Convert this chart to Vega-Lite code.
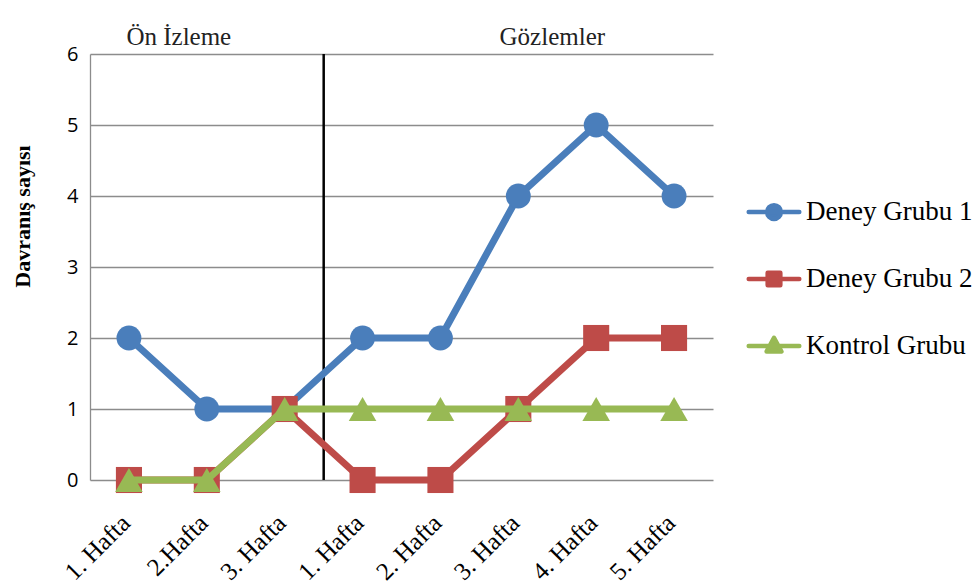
{
  "$schema": "https://vega.github.io/schema/vega-lite/v6.json",
  "width": 623,
  "height": 426,
  "autosize": {"type": "none"},
  "padding": {"left": 90, "top": 54, "right": 260, "bottom": 107},
  "background": "white",
  "config": {
    "view": {"stroke": null},
    "axis": {"labelColor": "black", "titleColor": "black"}
  },
  "data": {
    "values": [
      {"week": 1, "series": "Deney Grubu 1", "value": 2},
      {"week": 2, "series": "Deney Grubu 1", "value": 1},
      {"week": 3, "series": "Deney Grubu 1", "value": 1},
      {"week": 4, "series": "Deney Grubu 1", "value": 2},
      {"week": 5, "series": "Deney Grubu 1", "value": 2},
      {"week": 6, "series": "Deney Grubu 1", "value": 4},
      {"week": 7, "series": "Deney Grubu 1", "value": 5},
      {"week": 8, "series": "Deney Grubu 1", "value": 4},
      {"week": 1, "series": "Deney Grubu 2", "value": 0},
      {"week": 2, "series": "Deney Grubu 2", "value": 0},
      {"week": 3, "series": "Deney Grubu 2", "value": 1},
      {"week": 4, "series": "Deney Grubu 2", "value": 0},
      {"week": 5, "series": "Deney Grubu 2", "value": 0},
      {"week": 6, "series": "Deney Grubu 2", "value": 1},
      {"week": 7, "series": "Deney Grubu 2", "value": 2},
      {"week": 8, "series": "Deney Grubu 2", "value": 2},
      {"week": 1, "series": "Kontrol Grubu", "value": 0},
      {"week": 2, "series": "Kontrol Grubu", "value": 0},
      {"week": 3, "series": "Kontrol Grubu", "value": 1},
      {"week": 4, "series": "Kontrol Grubu", "value": 1},
      {"week": 5, "series": "Kontrol Grubu", "value": 1},
      {"week": 6, "series": "Kontrol Grubu", "value": 1},
      {"week": 7, "series": "Kontrol Grubu", "value": 1},
      {"week": 8, "series": "Kontrol Grubu", "value": 1}
    ]
  },
  "encoding": {
    "x": {
      "field": "week",
      "type": "ordinal",
      "scale": {"type": "point", "padding": 0.5},
      "axis": {
        "title": null,
        "domain": false,
        "ticks": false,
        "grid": false,
        "labelAngle": -45,
        "labelFont": "Liberation Serif",
        "labelFontSize": 25,
        "labelPadding": 30,
        "labelOffset": -12,
        "labelExpr": "['1. Hafta','2.Hafta','3. Hafta','1. Hafta','2. Hafta','3. Hafta','4. Hafta','5. Hafta'][datum.value - 1]"
      }
    },
    "y": {
      "field": "value",
      "type": "quantitative",
      "scale": {"domain": [0, 6], "nice": false},
      "axis": {
        "values": [0, 1, 2, 3, 4, 5, 6],
        "grid": true,
        "gridColor": "#8c8c8c",
        "gridWidth": 1.3,
        "domain": true,
        "domainColor": "#8c8c8c",
        "domainWidth": 1.3,
        "ticks": false,
        "labelPadding": 12,
        "labelFont": "Open Sans",
        "labelFontSize": 20,
        "title": "Davranış sayısı",
        "titleFont": "Liberation Serif",
        "titleFontSize": 22,
        "titleFontWeight": "bold",
        "titleAngle": -90,
        "titleAlign": "center",
        "titleBaseline": "middle",
        "titleX": -68,
        "titleY": 162
      }
    },
    "color": {
      "field": "series",
      "type": "nominal",
      "scale": {"domain": ["Deney Grubu 1", "Deney Grubu 2", "Kontrol Grubu"], "range": ["#4a7ebb", "#be4b48", "#98b954"]},
      "legend": {
        "orient": "none",
        "legendX": 654,
        "legendY": 128,
        "title": null,
        "symbolSize": 3025,
        "symbolStrokeWidth": 4.5,
        "labelFont": "Liberation Serif",
        "labelFontSize": 27,
        "labelColor": "black",
        "labelLimit": 400,
        "labelOffset": 2,
        "rowPadding": 24,
        "encoding": {
          "symbols": {
            "shape": {"value": {"expr": "datum.value === 'Deney Grubu 1' ? 'M-0.92,0H0.92M-0.25,0A0.25,0.25 0 1,0 0.25,0A0.25,0.25 0 1,0 -0.25,0Z' : datum.value === 'Deney Grubu 2' ? 'M-0.92,0H0.92M-0.23,-0.23H0.23V0.23H-0.23Z' : 'M-0.92,0H0.92M0,-0.3L0.27,0.2H-0.27Z'"}},
            "fill": {"value": {"expr": "scale('color', datum.value)"}},
            "stroke": {"value": {"expr": "scale('color', datum.value)"}},
            "strokeWidth": {"value": 4.5},
            "strokeCap": {"value": "round"},
            "strokeJoin": {"value": "round"},
            "size": {"value": 3025},
            "opacity": {"value": 1},
            "fillOpacity": {"value": 1},
            "strokeOpacity": {"value": 1}
          }
        }
      }
    }
  },
  "layer": [
    {
      "transform": [{"filter": "datum.week === 1 && datum.series === 'Deney Grubu 1'"}],
      "mark": {"type": "rule", "color": "black", "strokeWidth": 2.5, "xOffset": 39},
      "encoding": {
        "x": {"datum": 3, "type": "ordinal"},
        "y": {"datum": 0, "type": "quantitative"},
        "y2": {"datum": 6},
        "color": {"value": "black"}
      }
    },
    {
      "transform": [{"filter": "datum.week === 1 && datum.series === 'Deney Grubu 1'"}],
      "mark": {"type": "text", "text": "Ön İzleme", "font": "Liberation Serif", "fontSize": 25, "fontWeight": "normal", "baseline": "alphabetic", "align": "center", "dx": -28, "dy": -9},
      "encoding": {
        "x": {"datum": 2, "type": "ordinal"},
        "y": {"datum": 6, "type": "quantitative"},
        "color": {"value": "#222222"}
      }
    },
    {
      "transform": [{"filter": "datum.week === 1 && datum.series === 'Deney Grubu 1'"}],
      "mark": {"type": "text", "text": "Gözlemler", "font": "Liberation Serif", "fontSize": 25, "fontWeight": "normal", "baseline": "alphabetic", "align": "center", "dx": 34, "dy": -9},
      "encoding": {
        "x": {"datum": 6, "type": "ordinal"},
        "y": {"datum": 6, "type": "quantitative"},
        "color": {"value": "#222222"}
      }
    },
    {
      "transform": [{"filter": "datum.series === 'Deney Grubu 1'"}],
      "mark": {"type": "line", "strokeWidth": 7, "strokeJoin": "round"}
    },
    {
      "transform": [{"filter": "datum.series === 'Deney Grubu 1'"}],
      "mark": {"type": "point", "shape": "circle", "filled": true, "opacity": 1, "size": 620}
    },
    {
      "transform": [{"filter": "datum.series === 'Deney Grubu 2'"}],
      "mark": {"type": "line", "strokeWidth": 7, "strokeJoin": "round"}
    },
    {
      "transform": [{"filter": "datum.series === 'Deney Grubu 2'"}],
      "mark": {"type": "point", "shape": "square", "filled": true, "opacity": 1, "size": 680}
    },
    {
      "transform": [{"filter": "datum.series === 'Kontrol Grubu'"}],
      "mark": {"type": "line", "strokeWidth": 7, "strokeJoin": "round"}
    },
    {
      "transform": [{"filter": "datum.series === 'Kontrol Grubu'"}],
      "mark": {"type": "point", "shape": "triangle-up", "filled": true, "opacity": 1, "size": 760}
    }
  ]
}
